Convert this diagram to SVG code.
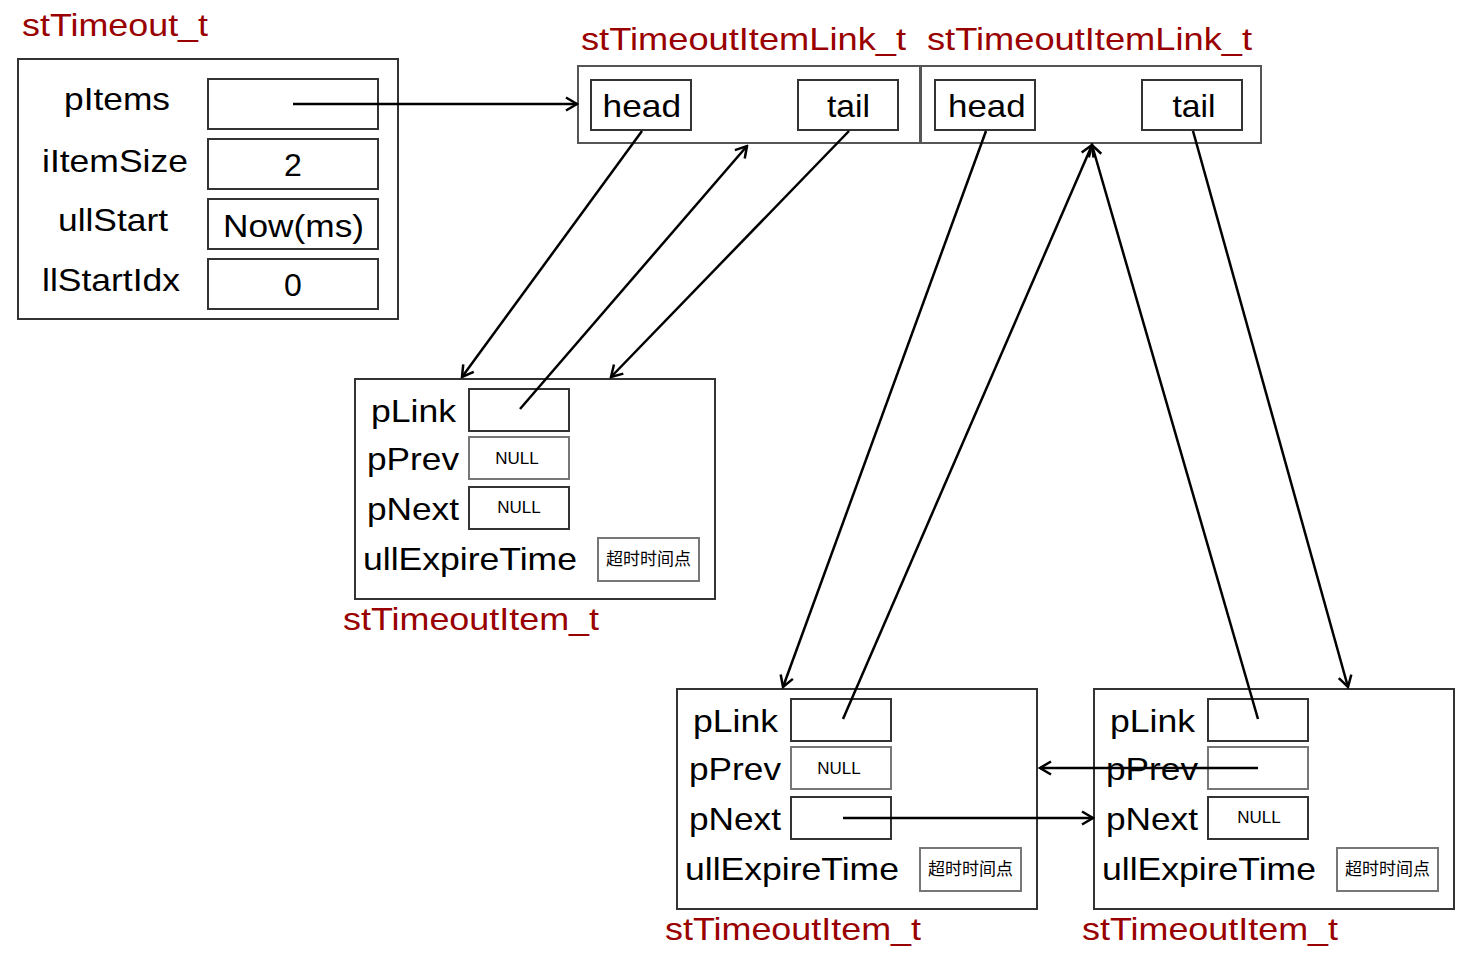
<svg xmlns="http://www.w3.org/2000/svg" width="1473" height="970" viewBox="0 0 1473 970">
<style>
.t{font-family:"Liberation Sans",Arial,sans-serif;font-size:32px;fill:#000}
.r{font-family:"Liberation Sans",Arial,sans-serif;font-size:32px;fill:#990000}
.s{font-family:"Liberation Sans",Arial,sans-serif;font-size:17px;fill:#000}
.c{font-family:"Noto Sans CJK SC","Noto Sans",sans-serif;font-size:17px;fill:#000}
.ob{fill:#fff;stroke:#333;stroke-width:2}
.ib{fill:#fff;stroke:#333;stroke-width:2}
.gb{fill:#fff;stroke:#777;stroke-width:2}
.ln{fill:none;stroke:#000;stroke-width:2.5;marker-end:url(#arr)}
</style>
<defs>
<marker id="arr" viewBox="-13 -8 15 16" refX="0" refY="0" markerWidth="15" markerHeight="16" markerUnits="userSpaceOnUse" orient="auto">
<path d="M-11,-6.5 L0,0 L-11,6.5" fill="none" stroke="#000" stroke-width="2.5"/>
</marker>
<g id="itemTpl">
<rect class="ob" x="0" y="0" width="360" height="220"/>
<rect class="ib" x="114" y="10" width="100" height="42"/>
<rect class="gb" x="114" y="58" width="100" height="42"/>
<rect class="ib" x="114" y="108" width="100" height="42"/>
<rect class="gb" x="243" y="159" width="101" height="43"/>
<text class="t" x="16" y="43" textLength="85" lengthAdjust="spacingAndGlyphs">pLink</text>
<text class="t" x="12" y="91" textLength="92" lengthAdjust="spacingAndGlyphs">pPrev</text>
<text class="t" x="12" y="141" textLength="92" lengthAdjust="spacingAndGlyphs">pNext</text>
<text class="t" x="8" y="191" textLength="214" lengthAdjust="spacingAndGlyphs">ullExpireTime</text>
<text class="c" x="293.5" y="186" text-anchor="middle">超时时间点</text>
<text class="r" x="-12" y="251" textLength="256" lengthAdjust="spacingAndGlyphs">stTimeoutItem_t</text>
</g>
</defs>
<rect width="1473" height="970" fill="#fff"/>

<g id="stTimeout">
<text class="r" x="22" y="36" textLength="186" lengthAdjust="spacingAndGlyphs">stTimeout_t</text>
<rect class="ob" x="18" y="59" width="380" height="260"/>
<rect class="ib" x="208" y="79" width="170" height="50"/>
<rect class="ib" x="208" y="139" width="170" height="50"/>
<rect class="ib" x="208" y="199" width="170" height="50"/>
<rect class="ib" x="208" y="259" width="170" height="50"/>
<text class="t" x="64" y="110" textLength="106" lengthAdjust="spacingAndGlyphs">pItems</text>
<text class="t" x="42" y="172" textLength="146" lengthAdjust="spacingAndGlyphs">iItemSize</text>
<text class="t" x="58" y="231" textLength="110" lengthAdjust="spacingAndGlyphs">ullStart</text>
<text class="t" x="42" y="291" textLength="138" lengthAdjust="spacingAndGlyphs">llStartIdx</text>
<text class="t" x="293" y="176" text-anchor="middle">2</text>
<text class="t" x="293.5" y="237" text-anchor="middle" textLength="141" lengthAdjust="spacingAndGlyphs">Now(ms)</text>
<text class="t" x="293" y="296" text-anchor="middle">0</text>
</g>

<g id="link1">
<text class="r" x="581" y="50" textLength="325" lengthAdjust="spacingAndGlyphs">stTimeoutItemLink_t</text>
<rect class="ob" x="578" y="66" width="342" height="77" style="stroke:#555"/>
<rect class="ib" x="591" y="80" width="100" height="50"/>
<rect class="ib" x="798" y="80" width="100" height="50"/>
<text class="t" x="602.5" y="117" textLength="78.5" lengthAdjust="spacingAndGlyphs">head</text>
<text class="t" x="827" y="117" textLength="43" lengthAdjust="spacingAndGlyphs">tail</text>
</g>

<g id="link2">
<text class="r" x="927" y="50" textLength="325" lengthAdjust="spacingAndGlyphs">stTimeoutItemLink_t</text>
<rect class="ob" x="921" y="66" width="340" height="77" style="stroke:#555"/>
<rect class="ib" x="935" y="80" width="100" height="50"/>
<rect class="ib" x="1142" y="80" width="100" height="50"/>
<text class="t" x="948" y="117" textLength="77.5" lengthAdjust="spacingAndGlyphs">head</text>
<text class="t" x="1172.5" y="117" textLength="43" lengthAdjust="spacingAndGlyphs">tail</text>
</g>

<g id="item1" transform="translate(355,379)">
<use href="#itemTpl"/>
<text class="s" x="162" y="85" text-anchor="middle">NULL</text>
<text class="s" x="164" y="134" text-anchor="middle">NULL</text>
</g>

<g id="item2" transform="translate(677,689)">
<use href="#itemTpl"/>
<text class="s" x="162" y="85" text-anchor="middle">NULL</text>
</g>

<g id="item3" transform="translate(1094,689)">
<use href="#itemTpl"/>
<text class="s" x="165" y="134" text-anchor="middle">NULL</text>
</g>

<g id="connectors">
<line class="ln" x1="293" y1="104" x2="577" y2="104"/>
<line class="ln" x1="642" y1="131" x2="462" y2="377"/>
<line class="ln" x1="520" y1="409" x2="747" y2="146"/>
<line class="ln" x1="849" y1="131" x2="611" y2="377"/>
<line class="ln" x1="986" y1="131" x2="783" y2="687"/>
<line class="ln" x1="843" y1="719" x2="1092" y2="145"/>
<line class="ln" x1="1258" y1="719" x2="1092" y2="145"/>
<line class="ln" x1="1193" y1="131" x2="1348" y2="687"/>
<line class="ln" x1="1258" y1="768" x2="1040" y2="768"/>
<line class="ln" x1="843" y1="818" x2="1093" y2="818"/>
</g>
</svg>
